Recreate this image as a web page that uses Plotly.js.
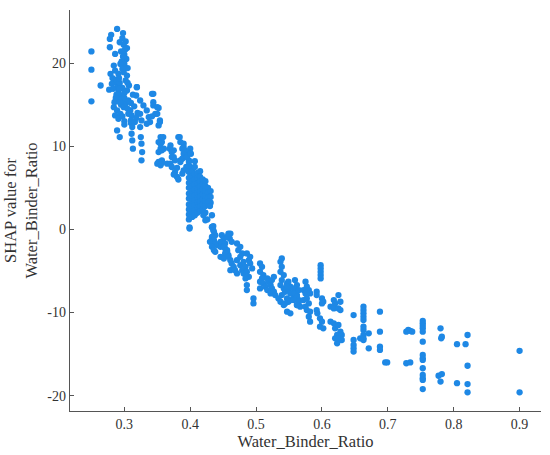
<!DOCTYPE html>
<html>
<head>
<meta charset="utf-8">
<script src="https://cdn.plot.ly/plotly-3.0.1.min.js"></script>
<style>html,body{margin:0;padding:0;background:#fff;}</style>
</head>
<body>
<div id="chart" style="width:550px;height:455px;"></div>
<script>
// [Water_Binder_Ratio, SHAP value] pairs, by region
const pointsLowRatio = [
 [0.25,21.4],[0.25,19.2],[0.25,15.4],[0.264,17.3],[0.277,16.8],[0.289,24.1],[0.28,23.4],[0.278,22.9],[0.278,21.9],[0.286,21.1],
 [0.297,23.0],[0.302,22.6],[0.299,22.2],[0.304,21.8],[0.295,21.4],[0.300,21.0],[0.303,20.5],[0.296,20.2],[0.293,22.5],[0.296,20.1],
 [0.30,19.9],[0.284,19.7],[0.286,19.1],[0.291,18.7],[0.294,19.9],[0.279,18.7],[0.284,17.9],[0.286,17.7],[0.281,17.5],[0.299,18.9],
 [0.304,18.5],[0.302,17.9],[0.289,17.1],[0.291,16.5],[0.294,16.1],[0.29,15.9],[0.304,16.7],[0.307,17.3],[0.319,17.1],[0.284,14.7],
 [0.289,14.3],[0.286,13.7],[0.294,13.9],[0.291,13.3],[0.299,14.7],[0.302,15.1],[0.289,11.9],[0.293,11.1],[0.309,14.3],[0.311,13.7],
 [0.31,13.1],[0.312,12.3],[0.311,11.5],[0.312,10.7],[0.313,9.7],[0.324,13.9],[0.326,13.1],[0.324,12.3],[0.325,11.1],[0.326,10.3],
 [0.327,9.3],[0.326,8.3],[0.319,17.1],[0.318,16.1],[0.324,15.5],[0.329,14.9],[0.334,14.3],[0.337,13.5],[0.339,12.9],[0.334,12.7],
 [0.282,18.2],[0.288,18.0],[0.293,17.6],[0.297,17.0],[0.283,16.9],[0.292,16.9],[0.288,16.2],[0.296,15.6],[0.285,15.3],[0.3,15.8],
 [0.295,15.0],[0.305,14.5],[0.297,13.6],[0.306,13.9],[0.3,13.0],[0.31,15.2],[0.315,14.8],[0.32,14.0],[0.318,13.4],[0.3,12.6],
 [0.298,23.6],[0.301,21.6],[0.298,20.8],[0.305,19.4],[0.297,19.3],[0.292,18.2],[0.305,17.6],[0.3,16.4],[0.287,15.8],[0.293,15.3],
 [0.306,15.5],[0.313,16.2],[0.31,12.8],[0.316,12.9]
];
const pointsMidLowRatio = [
 [0.344,16.3],[0.344,15.3],[0.352,14.6],[0.35,13.9],[0.354,13.1],[0.352,12.5],[0.355,11.1],[0.357,10.5],[0.355,9.7],[0.352,9.3],
 [0.357,8.3],[0.35,7.9],[0.37,10.1],[0.375,9.5],[0.372,8.7],[0.365,7.9],[0.382,11.1],[0.385,10.5],[0.39,9.9],[0.393,9.3],
 [0.395,8.7],[0.4,9.7],[0.4,9.1],[0.398,8.3],[0.4,7.5],[0.385,8.3],[0.342,16.3],[0.344,14.9],[0.35,14.7],[0.347,13.9],
 [0.342,13.6],[0.354,12.9],[0.359,11.1],[0.352,10.5],[0.355,10.3],[0.36,9.7],[0.357,9.5],[0.352,8.1],[0.355,7.7],[0.357,8.0],
 [0.369,9.7],[0.372,9.3],[0.375,8.7],[0.377,8.3],[0.37,7.9],[0.372,7.5],[0.377,6.9],[0.38,6.3],[0.382,6.0],[0.375,6.6],
 [0.38,7.4],[0.384,11.1],[0.39,10.3],[0.388,9.7],[0.392,9.5],[0.39,9.1],[0.388,8.5],[0.385,8.1],[0.395,8.7],[0.401,9.1],
 [0.398,8.1],[0.394,7.5],[0.39,7.1],[0.388,6.7]
];
const pointsDenseRatio = [
 [0.398,7.6],[0.398,6.9],[0.398,6.2],[0.398,5.6],[0.398,5.0],[0.398,4.3],[0.398,3.7],[0.398,3.0],[0.398,2.4],[0.398,1.8],[0.398,1.2],
 [0.403,7.0],[0.403,6.4],[0.403,5.8],[0.403,5.2],[0.403,4.6],[0.403,4.0],[0.403,3.4],[0.403,2.8],[0.403,2.1],[0.403,1.5],
 [0.407,8.2],[0.407,7.5],[0.407,6.7],[0.407,6.0],[0.407,5.4],[0.407,4.8],[0.407,4.1],[0.407,3.5],[0.407,2.9],[0.407,2.3],[0.407,1.7],
 [0.411,6.8],[0.411,6.2],[0.411,5.5],[0.411,4.9],[0.411,4.4],[0.411,3.8],[0.411,3.2],[0.411,2.6],[0.411,2.0],
 [0.415,7.0],[0.415,6.3],[0.415,5.7],[0.415,5.1],[0.415,4.5],[0.415,3.9],[0.415,3.3],[0.415,2.7],[0.415,2.2],
 [0.419,6.0],[0.419,5.4],[0.419,4.8],[0.419,4.2],[0.419,3.6],[0.419,3.0],[0.419,2.4],
 [0.423,5.8],[0.423,5.2],[0.423,4.6],[0.423,4.0],[0.423,3.4],[0.423,2.8],[0.423,2.0],
 [0.427,5.0],[0.427,4.4],[0.427,3.8],[0.427,3.2],[0.431,4.6],[0.431,3.9],[0.431,3.2],
 [0.399,0.25],[0.433,0.25],[0.435,0.4],[0.399,0.1],[0.426,1.2],[0.423,1.1],[0.42,1.7],[0.428,3.3],[0.43,2.8],[0.433,1.7]
];
const pointsMidRatio = [
 [0.433,0.3],[0.435,-0.1],[0.438,-0.7],[0.433,-1.1],[0.435,-1.5],[0.441,-1.9],[0.446,-2.1],[0.448,-1.7],[0.453,-2.3],[0.456,-2.7],
 [0.458,-3.1],[0.461,-0.5],[0.46,-1.1],[0.463,-1.5],[0.436,-0.3],[0.433,-0.9],[0.436,-1.3],[0.43,-1.5],[0.438,-1.7],[0.433,-2.1],
 [0.436,-2.5],[0.438,-2.7],[0.448,-0.7],[0.451,-1.1],[0.458,-0.5],[0.456,-0.9],[0.446,-1.5],[0.453,-1.7],[0.451,-2.1],[0.456,-2.5],
 [0.453,-2.9],[0.446,-3.3],[0.451,-3.5],[0.458,-3.3],[0.461,-3.7],[0.463,-4.1],[0.466,-4.5],[0.461,-4.9],[0.468,-4.9],[0.471,-5.3],
 [0.471,-1.7],[0.476,-2.1],[0.473,-2.5],[0.479,-2.9],[0.476,-3.3],[0.471,-3.7],[0.476,-4.3],[0.481,-3.9],[0.484,-4.5],[0.479,-4.9],
 [0.481,-5.3],[0.486,-5.1],[0.489,-5.7],[0.484,-5.9],[0.486,-2.9],[0.491,-3.3],[0.489,-3.7],[0.491,-4.1],[0.494,-4.7],[0.486,-6.7],
 [0.486,-7.3],[0.496,-8.3],[0.496,-8.9]
];
const pointsMidHighRatio = [
 [0.506,-4.1],[0.509,-4.5],[0.506,-5.1],[0.511,-5.5],[0.509,-5.9],[0.506,-6.3],[0.511,-6.5],[0.514,-6.9],[0.506,-7.1],[0.517,-5.9],
 [0.519,-6.3],[0.522,-6.7],[0.524,-7.1],[0.517,-7.3],[0.522,-7.7],[0.527,-7.5],[0.529,-7.9],[0.524,-6.1],[0.527,-5.7],
 [0.537,-3.9],[0.539,-4.5],[0.537,-5.1],[0.542,-5.5],[0.539,-6.1],[0.537,-6.7],[0.542,-7.1],[0.544,-7.5],[0.539,-7.9],[0.534,-8.3],
 [0.537,-8.7],[0.542,-9.1],[0.547,-6.5],[0.552,-6.9],[0.549,-7.3],[0.554,-7.7],[0.559,-7.3],[0.562,-7.9],[0.557,-8.3],[0.565,-8.5],
 [0.562,-9.1],[0.552,-8.5],[0.539,-3.5],[0.549,-6.3],[0.547,-6.9],[0.552,-7.7],[0.547,-8.3],[0.549,-8.7],[0.544,-8.9],[0.547,-9.9],
 [0.552,-10.1],[0.559,-6.1],[0.562,-6.7],[0.557,-7.1],[0.559,-7.7],[0.565,-7.3],[0.562,-8.1],[0.557,-8.5],[0.565,-8.7],[0.567,-9.3],
 [0.562,-9.1],[0.575,-6.3],[0.577,-6.9],[0.572,-7.3],[0.575,-7.7],[0.58,-7.3],[0.582,-7.7],[0.577,-8.3],[0.572,-8.5],[0.58,-8.9],
 [0.575,-9.3],[0.577,-9.7],[0.582,-9.9],[0.58,-10.5],[0.582,-11.1],[0.598,-4.3],[0.598,-4.7],[0.598,-5.1],[0.598,-5.5],[0.598,-5.9],
 [0.592,-7.5],[0.592,-7.9],[0.592,-9.7],[0.593,-10.1],[0.597,-10.7],[0.6,-11.1],[0.597,-11.7],[0.602,-11.9],[0.6,-8.3],[0.602,-8.7],
 [0.6,-8.9],[0.613,-9.3],[0.618,-8.5],[0.62,-8.9],[0.618,-9.5],[0.625,-7.9],[0.628,-8.7],[0.625,-9.5],[0.628,-9.7],[0.613,-11.1],
 [0.618,-11.3],[0.62,-11.9],[0.625,-11.5],[0.628,-12.3],[0.623,-12.7],[0.63,-12.7]
];
const pointsHighRatio = [
 [0.62,-13.1],[0.623,-13.7],[0.625,-13.1],[0.63,-13.3],[0.648,-10.3],[0.648,-13.3],[0.648,-13.9],[0.648,-14.3],[0.648,-14.7],
 [0.663,-9.3],[0.663,-9.7],[0.663,-10.1],[0.663,-10.5],[0.663,-10.9],[0.663,-11.7],[0.663,-12.1],[0.663,-12.7],[0.663,-13.1],[0.663,-13.3],
 [0.658,-13.1],[0.671,-12.5],[0.671,-14.3],[0.688,-9.9],[0.688,-12.3],[0.688,-14.1],[0.688,-14.5],[0.696,-16.0],[0.699,-16.0],
 [0.728,-12.3],[0.731,-12.1],[0.734,-12.2],[0.737,-12.3],[0.728,-16.1],[0.734,-16.0],
 [0.753,-11.0],[0.753,-11.3],[0.753,-11.6],[0.753,-11.9],[0.753,-12.3],[0.753,-13.5],[0.753,-15.1],[0.753,-15.5],[0.753,-15.7],
 [0.753,-16.7],[0.753,-17.5],[0.753,-17.9],[0.753,-18.1],[0.753,-19.2],
 [0.78,-11.9],[0.781,-13.1],[0.782,-12.9],[0.777,-17.6],[0.78,-18.3],[0.782,-17.4],
 [0.805,-13.8],[0.805,-18.5],[0.818,-13.8],[0.821,-12.7],[0.821,-16.4],[0.821,-18.6],[0.821,-19.6],
 [0.9,-14.6],[0.9,-19.6]
];
const xTickValues = [0.3,0.4,0.5,0.6,0.7,0.8,0.9];
const xTickLabels = ['0.3','0.4','0.5','0.6','0.7','0.8','0.9'];
const yTickValues = [20,10,0,-10,-20];
const yTickLabels = ['20','10','0','-10','-20'];

const allPoints = [].concat(pointsLowRatio, pointsMidLowRatio, pointsDenseRatio, pointsMidRatio, pointsMidHighRatio, pointsHighRatio);
const trace = {
  type: 'scatter', mode: 'markers',
  x: allPoints.map(p => p[0]),
  y: allPoints.map(p => p[1]),
  marker: {color: '#1E88E5', size: 6.3, line: {width: 0}},
  hoverinfo: 'skip'
};
const serif = 'Liberation Serif';
const axisFont = {family: serif, size: 14, color: '#333'};
const titleFont = {family: serif, size: 16.5, color: '#333'};
const layout = {
  width: 550, height: 455,
  margin: {l: 70, r: 9, t: 10, b: 44},
  paper_bgcolor: '#fff', plot_bgcolor: '#fff',
  showlegend: false,
  font: {family: serif, color: '#333'},
  xaxis: {
    range: [0.2175, 0.9325], showgrid: false, zeroline: false,
    showline: true, linecolor: '#555', linewidth: 1.2,
    ticks: 'inside', ticklen: 4, tickcolor: '#555', tickwidth: 1,
    tickvals: xTickValues, ticktext: xTickLabels, tickfont: axisFont,
    title: {text: 'Water_Binder_Ratio', font: titleFont, standoff: 3},
    automargin: false
  },
  yaxis: {
    range: [-21.84, 26.38], showgrid: false, zeroline: false,
    showline: true, linecolor: '#555', linewidth: 1.2,
    ticks: 'inside', ticklen: 4, tickcolor: '#555', tickwidth: 1,
    tickvals: yTickValues, ticktext: yTickLabels, tickfont: axisFont,
    title: {text: 'SHAP value for<br>Water_Binder_Ratio', font: titleFont, standoff: 5},
    automargin: false
  }
};
Plotly.newPlot('chart', [trace], layout, {displayModeBar: false, staticPlot: true});
</script>
</body>
</html>
